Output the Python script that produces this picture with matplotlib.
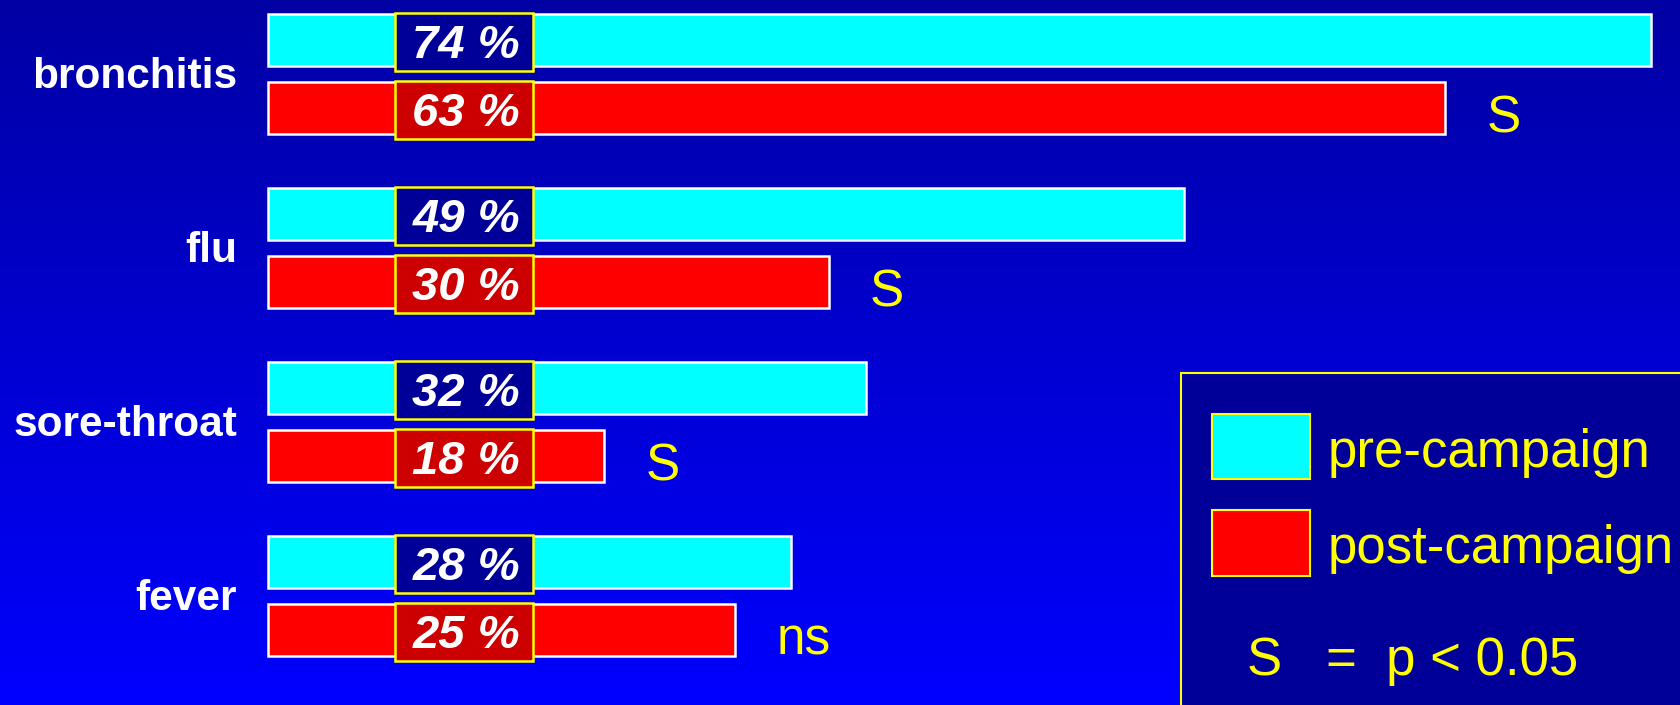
import numpy as np
import matplotlib
matplotlib.use("Agg")
import matplotlib.pyplot as plt
from matplotlib.patches import Rectangle

plt.rcParams['font.family'] = ['Liberation Sans', 'DejaVu Sans']

# data
diseases = ["bronchitis", "flu", "sore-throat", "fever"]
pre = [74, 49, 32, 28]
post = [63, 30, 18, 25]
signif = ["S", "S", "S", "ns"]

W, H = 1681, 705
fig = plt.figure(figsize=(W / 100, H / 100), dpi=100)

# gradient background
bg = fig.add_axes([0, 0, 1, 1])
grad = np.linspace(0, 1, 256).reshape(-1, 1)
cols = np.zeros((256, 1, 3))
cols[:, 0, 2] = 0.64 + 0.36 * grad[:, 0]
bg.imshow(cols, aspect='auto', extent=[0, 1, 0, 1], origin='upper')
bg.axis('off')

ax = fig.add_axes([0, 0, 1, 1])
ax.set_facecolor('none')
px_per_pct = 18.69
x0 = 268
ax.set_xlim(-x0 / px_per_pct, (W - x0) / px_per_pct)
gap = 174.0
c0 = 74.0
ax.set_ylim((H - c0) / gap, -c0 / gap)
ax.axis('off')

y = np.arange(len(diseases))
off = 0.195
bh = 0.296
ax.barh(y - off, pre, height=bh, color='#00FFFF', edgecolor='white', linewidth=1.8)
ax.barh(y + off, post, height=bh, color='#FF0000', edgecolor='white', linewidth=1.8)

box_x0, box_x1 = 6.8, 14.2
box_h = 0.335
for i in range(len(diseases)):
    ax.text(-1.65, y[i] + 0.08, diseases[i], ha='right', va='baseline',
            color='white', fontsize=30.5, fontweight='bold')
    for yy, v, fc in [(y[i] - off, pre[i], '#000099'), (y[i] + off, post[i], '#CC0000')]:
        ax.add_patch(Rectangle((box_x0, yy - box_h / 2 + 0.01), box_x1 - box_x0, box_h,
                               facecolor=fc, edgecolor='#FFFF00', linewidth=1.8, zorder=3))
        ax.text((box_x0 + box_x1) / 2 + 0.1, yy + 0.103, f"{v} %", ha='center', va='baseline',
                color='white', fontsize=34, fontweight='bold', style='italic', zorder=4)
    ax.text(post[i] + 2.2, y[i] + off + 0.14, signif[i], ha='left', va='baseline',
            color='#FFFF00', fontsize=37)

# legend panel
def fx(p):
    return p / W

def fy(p):
    return 1 - p / H

fig.add_artist(Rectangle((fx(1181), fy(715)), fx(600), (715 - 373) / H,
                         transform=fig.transFigure, facecolor='#000099',
                         edgecolor='#FFFF00', linewidth=1.5))
fig.add_artist(Rectangle((fx(1212), fy(479)), fx(98), 65 / H, transform=fig.transFigure,
                         facecolor='#00FFFF', edgecolor='#FFFF00', linewidth=1.5))
fig.add_artist(Rectangle((fx(1212), fy(576)), fx(98), 66 / H, transform=fig.transFigure,
                         facecolor='#FF0000', edgecolor='#FFFF00', linewidth=1.5))
fig.text(fx(1328), fy(467), "pre-campaign", color='#FFFF00', fontsize=38, va='baseline')
fig.text(fx(1328), fy(563), "post-campaign", color='#FFFF00', fontsize=38, va='baseline')
fig.text(fx(1247), fy(675), "S   =  p < 0.05", color='#FFFF00', fontsize=38, va='baseline')

fig.savefig("out.png", dpi=100)
